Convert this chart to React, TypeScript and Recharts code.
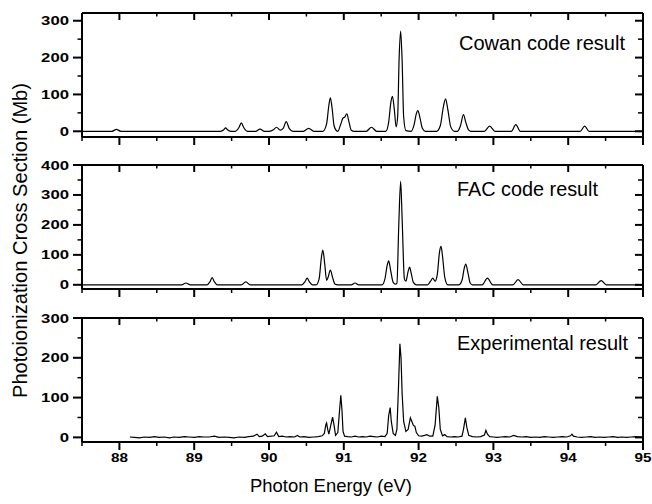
import { LineChart, Line, XAxis, YAxis } from 'recharts';

// photon energy ticks (eV), labels on the integers only
const energyTicks = [87.5, 88, 88.5, 89, 89.5, 90, 90.5, 91, 91.5, 92, 92.5, 93, 93.5, 94, 94.5, 95];

const cowanTicks = [0, 50, 100, 150, 200, 250, 300];
const facTicks = [0, 50, 100, 150, 200, 250, 300, 350, 400];
const exptTicks = [0, 50, 100, 150, 200, 250, 300];

// [energy eV, cross section Mb]
const cowan: [number, number][] = [
  [87.5, 0], [87.9, 0], [87.96, 5], [88.02, 0],
  [89.35, 0], [89.395, 4], [89.42, 9], [89.445, 4], [89.49, 0],
  [89.55, 0], [89.6, 11], [89.63, 23], [89.66, 11], [89.71, 0],
  [89.82, 0], [89.88, 6], [89.94, 0],
  [90.0, 0], [90.06, 4], [90.1, 11], [90.15, 3], [90.19, 8], [90.23, 26], [90.27, 8], [90.32, 0],
  [90.46, 0], [90.53, 8], [90.6, 0],
  [90.72, 0], [90.77, 20], [90.8, 70], [90.82, 91], [90.845, 60], [90.87, 15], [90.9, 2],
  [90.92, 0], [90.96, 20], [90.99, 36], [91.01, 38], [91.04, 47], [91.07, 25], [91.1, 3], [91.14, 0],
  [91.3, 0], [91.37, 11], [91.44, 0],
  [91.56, 0], [91.6, 25], [91.63, 80], [91.65, 95], [91.675, 60], [91.7, 12], [91.72, 40],
  [91.74, 200], [91.76, 272], [91.78, 190], [91.8, 40], [91.83, 2],
  [91.9, 0], [91.94, 18], [91.97, 48], [91.99, 56], [92.02, 35], [92.05, 8], [92.09, 0],
  [92.24, 0], [92.29, 15], [92.33, 65], [92.36, 88], [92.39, 60], [92.43, 12], [92.48, 0],
  [92.52, 0], [92.56, 15], [92.6, 45], [92.63, 25], [92.67, 3], [92.7, 0],
  [92.88, 0], [92.95, 14], [93.02, 0],
  [93.24, 0], [93.3, 18], [93.36, 0],
  [94.16, 0], [94.22, 14], [94.28, 0],
  [95, 0],
];

const fac: [number, number][] = [
  [87.5, 0], [88.83, 0], [88.89, 6], [88.95, 0],
  [89.17, 0], [89.21, 10], [89.24, 24], [89.27, 10], [89.31, 0],
  [89.63, 0], [89.69, 10], [89.75, 0],
  [90.44, 0], [90.48, 10], [90.51, 22], [90.54, 10], [90.58, 0],
  [90.63, 0], [90.67, 20], [90.7, 90], [90.72, 116], [90.745, 70], [90.77, 15], [90.79, 25],
  [90.82, 49], [90.85, 25], [90.88, 3], [90.92, 0],
  [91.1, 0], [91.15, 6], [91.2, 0],
  [91.51, 0], [91.55, 20], [91.58, 65], [91.6, 80], [91.625, 50], [91.66, 8], [91.69, 2],
  [91.71, 5], [91.735, 200], [91.76, 345], [91.78, 220], [91.81, 20], [91.83, 12], [91.86, 45],
  [91.88, 59], [91.9, 40], [91.93, 8], [91.97, 0],
  [92.12, 0], [92.16, 12], [92.19, 22], [92.22, 12], [92.25, 35], [92.28, 110], [92.3, 128],
  [92.32, 95], [92.35, 25], [92.39, 0],
  [92.54, 0], [92.58, 15], [92.61, 55], [92.63, 69], [92.66, 40], [92.69, 6], [92.72, 0],
  [92.85, 0], [92.92, 22], [92.99, 0],
  [93.26, 0], [93.33, 17], [93.4, 0],
  [94.37, 0], [94.44, 14], [94.51, 0],
  [95, 0],
];

const expt: [number, number][] = [
  [88.14, 1], [88.2, 0], [88.27, -1], [88.33, 1], [88.4, 0], [88.47, 2], [88.53, 0], [88.6, 1],
  [88.67, -1], [88.73, 1], [88.8, 0], [88.87, 2], [88.93, 1], [89.0, 0], [89.07, 2], [89.13, 1],
  [89.2, 1], [89.27, 3], [89.33, 0], [89.4, 1], [89.47, 0], [89.53, -1], [89.6, 1], [89.67, 0],
  [89.73, 2], [89.79, 3], [89.84, 8], [89.87, 2], [89.91, 3], [89.95, 9], [89.98, 2], [90.03, 3],
  [90.07, 4], [90.1, 13], [90.13, 2], [90.18, 3], [90.23, 1], [90.28, 2], [90.34, 1], [90.38, 5],
  [90.41, 1], [90.47, 2], [90.53, 0], [90.6, 1], [90.66, 2], [90.71, 4],
  [90.74, 10], [90.76, 32], [90.77, 36], [90.785, 20], [90.8, 8], [90.82, 25], [90.85, 51],
  [90.87, 30], [90.89, 5], [90.92, 12], [90.94, 60], [90.96, 106], [90.975, 70], [90.99, 15],
  [91.01, 3], [91.05, 2], [91.1, 1], [91.15, 3], [91.2, 1], [91.25, 2], [91.3, 1], [91.35, 3],
  [91.4, 2], [91.45, 1], [91.5, 3], [91.55, 2], [91.58, 10], [91.6, 55], [91.62, 75],
  [91.635, 40], [91.66, 10], [91.69, 5], [91.71, 20], [91.73, 120], [91.75, 235], [91.765, 200],
  [91.78, 110], [91.8, 40], [91.83, 15], [91.86, 20], [91.89, 49], [91.91, 40], [91.93, 30],
  [91.95, 28], [91.97, 12], [92.0, 4], [92.04, 3], [92.08, 5], [92.11, 7], [92.15, 3], [92.19, 3],
  [92.22, 30], [92.25, 103], [92.27, 75], [92.29, 20], [92.32, 4], [92.35, 7], [92.38, 2],
  [92.43, 1], [92.48, 2], [92.53, 1], [92.58, 3], [92.6, 20], [92.625, 49], [92.645, 25],
  [92.67, 5], [92.72, 2], [92.78, 1], [92.83, 2], [92.88, 6], [92.9, 18], [92.92, 8], [92.95, 2],
  [93.0, 1], [93.05, 0], [93.1, 1], [93.16, 2], [93.22, 1], [93.27, 5], [93.32, 2], [93.38, 1],
  [93.44, 2], [93.5, 0], [93.56, 1], [93.62, 0], [93.68, 2], [93.74, 1], [93.8, 0], [93.86, 1],
  [93.92, 2], [93.98, 1], [94.03, 4], [94.05, 8], [94.07, 3], [94.12, 1], [94.18, 0], [94.24, 1],
  [94.3, 2], [94.36, 0], [94.42, 1], [94.48, 0], [94.54, 1], [94.6, 2], [94.66, 0], [94.72, 1],
  [94.78, 0], [94.84, 1], [94.9, 2], [94.96, 1], [95, 1],
];

const FONT = '"Liberation Sans", Arial, Helvetica, sans-serif';
const W = 652;

// mt/mb are the chart margins outside the 1px axis strips
const panels = [
  { data: cowan, yTicks: cowanTicks, domain: [-15.5, 321], top: 0, height: 150, mt: 12, mb: 12, showX: false, curve: 'monotone' },
  { data: fac, yTicks: facTicks, domain: [-14, 400], top: 150, height: 150, mt: 14, mb: 10, showX: false, curve: 'monotone' },
  { data: expt, yTicks: exptTicks, domain: [-11.6, 300], top: 300, height: 204, mt: 17, mb: 61, showX: true, curve: 'linear' },
];

const XTick = ({ x, y, payload, side, labels }: any) => {
  const major = Number.isInteger(payload.value);
  if (side === 'top') {
    const len = major ? 7 : 3.5;
    return <line x1={x} x2={x} y1={y} y2={y + len} stroke="#000" strokeWidth={major ? 2 : 1.5} />;
  }
  const len = major ? 8 : 4;
  return (
    <g>
      <line x1={x} x2={x} y1={y} y2={y + len} stroke="#000" strokeWidth={major ? 2 : 1.5} />
      {labels && major && (
        <text x={x} y={y + 20} textAnchor="middle" fontSize={13} fontWeight={700} fontFamily={FONT}
          textLength={17} lengthAdjust="spacingAndGlyphs" fill="#000">
          {payload.value}
        </text>
      )}
    </g>
  );
};

const YTick = ({ x, y, payload, side }: any) => {
  const major = payload.value % 100 === 0;
  if (side === 'right') {
    const len = major ? 8 : 5;
    return <line x1={x - len} x2={x} y1={y} y2={y} stroke="#000" strokeWidth={major ? 2 : 1.5} />;
  }
  const len = major ? 9 : 4.5;
  const label = String(payload.value);
  return (
    <g>
      <line x1={x - len} x2={x} y1={y} y2={y} stroke="#000" strokeWidth={major ? 2 : 1.5} />
      {major && (
        <text x={x - 13} y={y + 4.5} textAnchor="end" fontSize={13} fontWeight={700} fontFamily={FONT}
          textLength={9.3 * label.length} lengthAdjust="spacingAndGlyphs" fill="#000">
          {label}
        </text>
      )}
    </g>
  );
};

function Panel({ p }: { p: (typeof panels)[number] }) {
  const rows = p.data.map(([e, v]) => ({ e, v }));
  const axisLine = { stroke: '#000', strokeWidth: 2 };
  return (
    <div style={{ position: 'absolute', left: 0, top: p.top }}>
      <LineChart width={W} height={p.height} data={rows}
        margin={{ top: p.mt, right: 8, bottom: p.mb, left: 81 }}>
        <XAxis dataKey="e" type="number" domain={[87.5, 95]} allowDataOverflow ticks={energyTicks}
          interval={0} height={1} tickSize={0} tickMargin={0} tickLine={false} axisLine={axisLine}
          tick={(t: any) => <XTick {...t} side="bottom" labels={p.showX} />} />
        <XAxis xAxisId="top" orientation="top" dataKey="e" type="number" domain={[87.5, 95]}
          allowDataOverflow ticks={energyTicks} interval={0} height={1} tickSize={0} tickMargin={0}
          tickLine={false} axisLine={axisLine} tick={(t: any) => <XTick {...t} side="top" />} />
        <YAxis type="number" domain={p.domain} allowDataOverflow ticks={p.yTicks} interval={0}
          width={1} tickSize={0} tickMargin={0} tickLine={false} axisLine={axisLine}
          tick={(t: any) => <YTick {...t} side="left" />} />
        <YAxis yAxisId="right" orientation="right" type="number" domain={p.domain} allowDataOverflow
          ticks={p.yTicks} interval={0} width={1} tickSize={0} tickMargin={0} tickLine={false}
          axisLine={axisLine} tick={(t: any) => <YTick {...t} side="right" />} />
        <Line dataKey="v" type={p.curve as any} stroke="#000" strokeWidth={1.2} dot={false}
          isAnimationActive={false} />
      </LineChart>
    </div>
  );
}

export default function App() {
  return (
    <div style={{ position: 'absolute', left: 0, top: 0, width: W, height: 504, background: '#fff' }}>
      {panels.map((p, i) => (
        <Panel key={i} p={p} />
      ))}
      <svg width={W} height={504} style={{ position: 'absolute', left: 0, top: 0, pointerEvents: 'none' }}
        fontFamily={FONT} fill="#000">
        <text x={459} y={50} fontSize={20} textLength={166} lengthAdjust="spacingAndGlyphs">Cowan code result</text>
        <text x={457} y={196} fontSize={20} textLength={141} lengthAdjust="spacingAndGlyphs">FAC code result</text>
        <text x={457} y={350} fontSize={20} textLength={171} lengthAdjust="spacingAndGlyphs">Experimental result</text>
        <text transform="translate(27 240.5) rotate(-90)" textAnchor="middle" fontSize={20} textLength={315}
          lengthAdjust="spacingAndGlyphs">Photoionization Cross Section (Mb)</text>
        <text x={331} y={492} textAnchor="middle" fontSize={19} textLength={162}
          lengthAdjust="spacingAndGlyphs">Photon Energy (eV)</text>
      </svg>
    </div>
  );
}
